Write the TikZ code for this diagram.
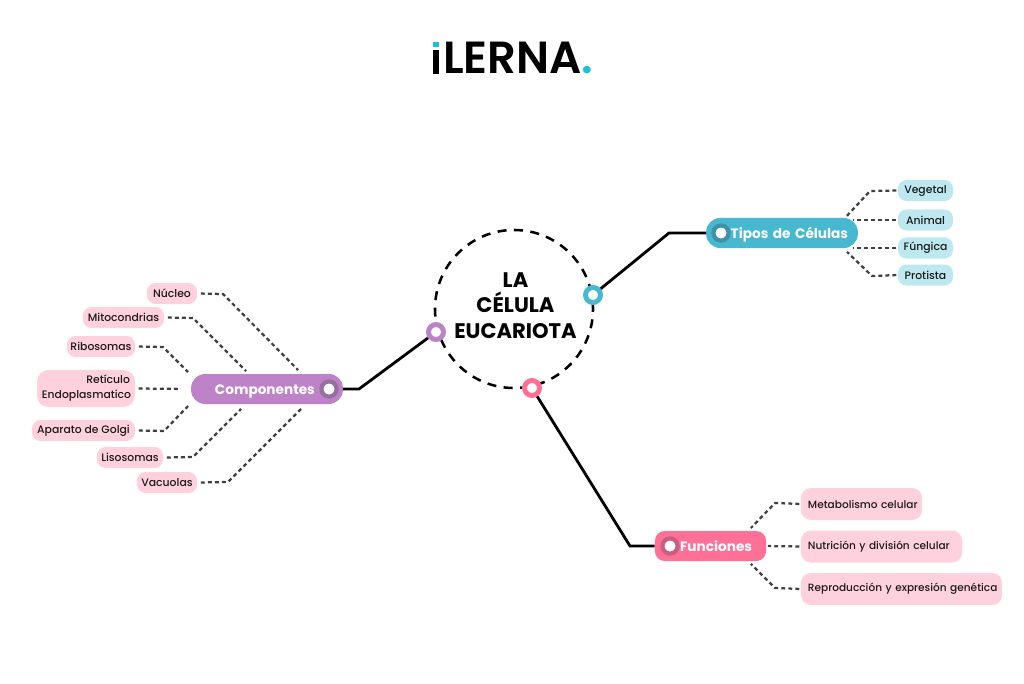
\documentclass[tikz,border=0pt]{standalone}
\usepackage{fontspec}
\setmainfont{Poppins Medium}[BoldFont={Poppins SemiBold}]
\newfontfamily\hubfamily{Poppins}
\newcommand{\leaffont}{\fontsize{7.7}{10.7}\selectfont}
\newcommand{\widefont}{\fontsize{7.5}{10.7}\selectfont}
\newcommand{\hubfont}{\hubfamily\fontsize{9.7}{12}\selectfont\bfseries}
\definecolor{hubpurple}{HTML}{BE82C8}
\definecolor{hubteal}{HTML}{47B8D0}
\definecolor{hubpink}{HTML}{FF7096}
\definecolor{knobpurple}{HTML}{96709F}
\definecolor{knobteal}{HTML}{3E93A8}
\definecolor{knobpink}{HTML}{C85F82}
\definecolor{leafpink}{HTML}{FFD1DE}
\definecolor{leafteal}{HTML}{BDE8F0}
\definecolor{logoteal}{HTML}{19C1D6}
\definecolor{inktext}{HTML}{1A1A1A}
\tikzset{
  leaf/.style={fill=leafpink, rounded corners=6pt, inner sep=0pt, minimum height=0.525cm, font=\leaffont, text=inktext},
  leafb/.style={leaf, fill=leafteal},
  leafw/.style={leaf, rounded corners=7pt, minimum height=0.8cm, inner xsep=5pt, align=left, font=\widefont},
  hub/.style={rounded corners=10pt, inner ysep=0pt, minimum height=0.75cm, font=\hubfont, text=white, text height=1.5ex, text depth=0.2ex},
  knob/.style={circle, fill=white, inner sep=0pt, minimum size=0.38cm, line width=3pt},
  ring/.style={circle, fill=white, inner sep=0pt, minimum size=0.375cm, line width=3.5pt},
  dashlink/.style={line width=1.6pt, draw=black!75, dash pattern=on 2.8pt off 2.2pt, shorten <=2.5pt, shorten >=3pt},
  trunk/.style={line width=2pt, black}
}
\begin{document}
\begin{tikzpicture}[x=0.025cm, y=-0.025cm]
  \useasboundingbox (0,0) rectangle (1024,683);

  \node[font=\fontsize{32}{36}\selectfont\bfseries, inner sep=0pt, anchor=base] (logo) at (512,74) {\textcolor{white}{i}LERNA\textcolor{logoteal}{.}};
  \fill[logoteal] (432.5,42.5) rectangle (438.5,47.5);
  \fill (432.5,50) rectangle (438.5,74);

  \node[circle, draw, line width=1.8pt, dash pattern=on 6.4pt off 5.3pt, minimum size=3.95cm, inner sep=0pt] (cell) at (514,309) {};
  \node[font=\hubfamily\fontsize{15}{18.2}\selectfont\bfseries, align=center, inner sep=0pt] (title) at (515.5,305.5) {LA\\CÉLULA\\EUCARIOTA};

  \node[ring, draw=hubteal] (ringt) at (593,295) {};
  \node[ring, draw=hubpurple] (ringc) at (436,332) {};
  \node[ring, draw=hubpink] (ringf) at (532,388) {};

  \node[hub, fill=hubpurple, inner xsep=17pt, text width=2.6cm, align=left] (comp) at (267,389) {Componentes};
  \node[hub, fill=hubteal, inner xsep=7pt, text width=3.3cm, align=right] (tipos) at (782,233) {Tipos de Células};
  \node[hub, fill=hubpink, rounded corners=7pt, inner xsep=10pt, text width=2.075cm, align=right] (func) at (710.5,546) {Funciones};

  \node[knob, draw=knobpurple] (knobc) at (329,389) {};
  \node[knob, draw=knobteal] (knobt) at (721,233) {};
  \node[knob, draw=knobpink] (knobf) at (670,546) {};

  \coordinate (bendt) at (669,233);
  \coordinate (bendc) at (359,389);
  \coordinate (bendf) at (630,546);
  \draw[trunk] (ringt) -- (bendt) -- (tipos);
  \draw[trunk] (ringc) -- (bendc) -- (comp);
  \draw[trunk] (ringf) -- (bendf) -- (func);

  \node[leaf, minimum width=1.25cm] (nucleo) at (172,293.5) {Núcleo};
  \node[leaf, minimum width=2.025cm] (mito) at (123.5,317.5) {Mitocondrias};
  \node[leaf, minimum width=1.7cm] (ribo) at (101,346.5) {Ribosomas};
  \node[leaf, rounded corners=8pt, minimum height=0.925cm, inner xsep=3.5pt, text width=2.2cm, align=right] (reticulo) at (86,388.5) {Retículo\\Endoplasmatico};
  \node[leaf, minimum width=2.575cm] (golgi) at (83.5,430.5) {Aparato de Golgi};
  \node[leaf, minimum width=1.65cm] (liso) at (130,457.5) {Lisosomas};
  \node[leaf, minimum width=1.5cm] (vacuo) at (167,482.5) {Vacuolas};

  \coordinate (nucleoa) at (223,294);
  \coordinate (nucleob) at (301,373);
  \coordinate (mitoa) at (193,318);
  \coordinate (mitob) at (249,374);
  \coordinate (riboa) at (163,347);
  \coordinate (ribob) at (191,375);
  \coordinate (golgia) at (164,431);
  \coordinate (golgib) at (191,403);
  \coordinate (lisoa) at (193,457);
  \coordinate (lisob) at (244,406);
  \coordinate (vacuoa) at (228,482);
  \coordinate (vacuob) at (306,404);
  \draw[dashlink] (nucleo.east) -- (nucleoa) -- (nucleob);
  \draw[dashlink] (mito.east) -- (mitoa) -- (mitob);
  \draw[dashlink] (ribo.east) -- (riboa) -- (ribob);
  \draw[dashlink, shorten >=7pt] (reticulo.east) -- (comp.west);
  \draw[dashlink] (golgi.east) -- (golgia) -- (golgib);
  \draw[dashlink] (liso.east) -- (lisoa) -- (lisob);
  \draw[dashlink] (vacuo.east) -- (vacuoa) -- (vacuob);

  \node[leafb, minimum width=1.375cm] (vegetal) at (925.5,190.5) {Vegetal};
  \node[leafb, minimum width=1.375cm] (animal) at (925.5,220) {Animal};
  \node[leafb, minimum width=1.375cm] (fungica) at (925.5,248) {Fúngica};
  \node[leafb, minimum width=1.375cm] (protista) at (925.5,275) {Protista};

  \coordinate (vegetala) at (870,191);
  \coordinate (vegetalb) at (844,219);
  \coordinate (animalb) at (849,220);
  \coordinate (fungicab) at (849,248);
  \coordinate (protistaa) at (872,276);
  \coordinate (protistab) at (844,249);
  \draw[dashlink, shorten <=1pt] (vegetal.west) -- (vegetala) -- (vegetalb);
  \draw[dashlink, shorten <=1pt] (animal.west) -- (animalb);
  \draw[dashlink, shorten <=1pt] (fungica.west) -- (fungicab);
  \draw[dashlink, shorten <=1pt] (protista.west) -- (protistaa) -- (protistab);

  \node[leafw, text width=2.675cm] (meta) at (861.5,504) {\mbox{Metabolismo celular}};
  \node[leafw, text width=3.675cm] (nutri) at (881.5,546.5) {\mbox{Nutrición y división celular}};
  \node[leafw, text width=4.675cm] (repro) at (901.5,589) {\mbox{Reproducción y expresión genética}};

  \coordinate (metaa) at (775,503);
  \coordinate (metab) at (748,531);
  \coordinate (reproa) at (775,588);
  \coordinate (reprob) at (748,561);
  \draw[dashlink, shorten <=1pt] (meta.west) -- (metaa) -- (metab);
  \draw[dashlink, shorten <=1pt, shorten >=1pt] (nutri.west) -- (func.east);
  \draw[dashlink, shorten <=1pt] (repro.west) -- (reproa) -- (reprob);
\end{tikzpicture}
\end{document}
